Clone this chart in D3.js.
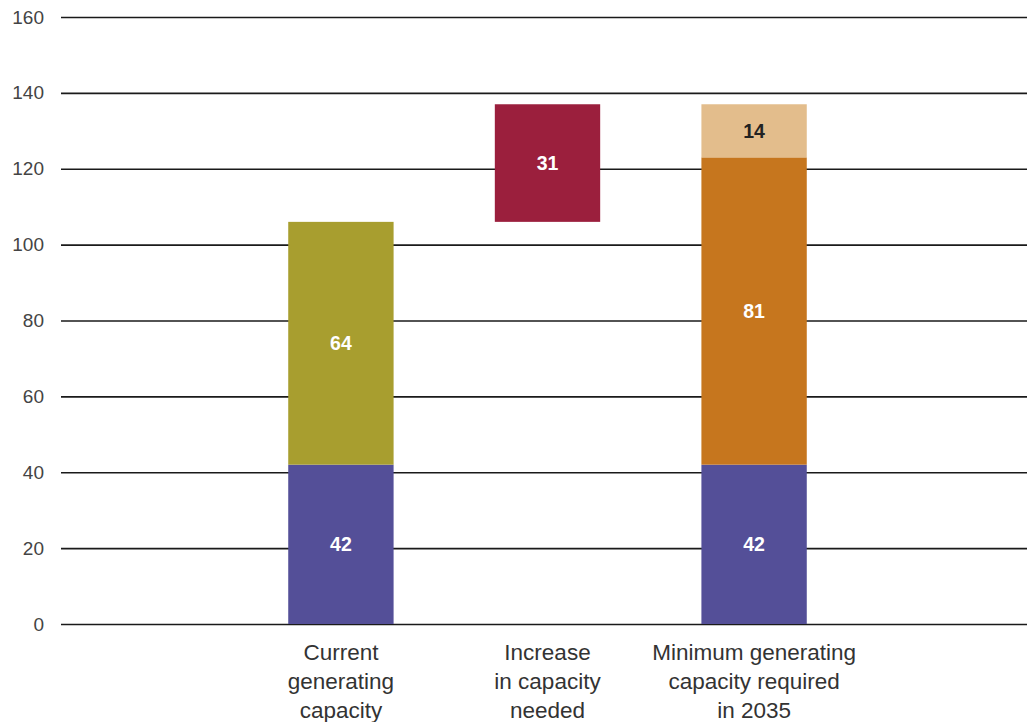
<!DOCTYPE html>
<html>
<head>
<meta charset="utf-8">
<script src="https://cdn.jsdelivr.net/npm/d3@7"></script>
<style>
  html, body { margin: 0; padding: 0; background: #fff; }
  svg { display: block; font-family: "Liberation Sans", Arial, sans-serif; }
</style>
</head>
<body>
<svg id="chart"></svg>
<script>
const width = 1027;
const height = 722;

// Data
const categories = ["current", "increase", "required"];
const categoryLabels = [
  ["Current", "generating", "capacity"],
  ["Increase", "in capacity", "needed"],
  ["Minimum generating", "capacity required", "in 2035"]
];
const baseValues = [42, 0, 42];        // shared bottom segment
const currentValues = [64, 0, 0];      // rest of current capacity
const increaseValues = [0, 31, 0];     // floating increase bar
const requiredValues = [0, 0, 81];     // rest of required capacity
const reserveValues = [0, 0, 14];      // top segment
const yTicks = [0, 20, 40, 60, 80, 100, 120, 140, 160];

const seriesList = [
  { values: baseValues, color: "#544f98", text: "#fff" },
  { values: currentValues, color: "#a89e2f", text: "#fff" },
  { values: increaseValues, color: "#9b1f3d", text: "#fff" },
  { values: requiredValues, color: "#c6761e", text: "#fff" },
  { values: reserveValues, color: "#e3bd8c", text: "#222" }
];

const svg = d3.select("#chart")
  .attr("width", width)
  .attr("height", height);

const xScale = d3.scaleBand()
  .domain(categories)
  .range([187, 908])
  .paddingInner(0.49)
  .paddingOuter(0.49);

const yScale = d3.scaleLinear()
  .domain([0, 160])
  .range([624, 17]);

// Gridlines + tick labels
const yAxis = d3.axisLeft(yScale)
  .tickValues(yTicks)
  .tickSize(-(width - 61))
  .tickPadding(17);

const yAxisG = svg.append("g")
  .attr("transform", "translate(61,0)")
  .call(yAxis);

yAxisG.select(".domain").remove();
yAxisG.selectAll("line")
  .attr("stroke", "#1a1a1a")
  .attr("stroke-width", 1.6);
yAxisG.selectAll("text")
  .attr("font-size", 19)
  .attr("font-family", "Liberation Sans, Arial, sans-serif")
  .attr("fill", "#444");

// Build stacked segments: the increase bar starts where current capacity ends
const segments = [];
categories.forEach((cat, i) => {
  let start = 0;
  seriesList.forEach(s => {
    const v = s.values[i];
    if (s.values === increaseValues && v > 0) {
      start = baseValues[0] + currentValues[0];
    }
    if (v > 0) {
      segments.push({ cat, y0: start, y1: start + v, value: v, color: s.color, text: s.text });
      start += v;
    }
  });
});

const bars = svg.append("g");

bars.selectAll("rect")
  .data(segments)
  .join("rect")
  .attr("x", d => xScale(d.cat))
  .attr("width", xScale.bandwidth())
  .attr("y", d => yScale(d.y1))
  .attr("height", d => yScale(d.y0) - yScale(d.y1))
  .attr("fill", d => d.color);

bars.selectAll("text")
  .data(segments)
  .join("text")
  .attr("x", d => xScale(d.cat) + xScale.bandwidth() / 2)
  .attr("y", d => yScale((d.y0 + d.y1) / 2))
  .attr("dy", "0.35em")
  .attr("text-anchor", "middle")
  .attr("font-size", 19.5)
  .attr("font-weight", "bold")
  .attr("fill", d => d.text)
  .text(d => d.value);

// Category labels
const labels = svg.append("g");
categories.forEach((cat, i) => {
  const t = labels.append("text")
    .attr("x", xScale(cat) + xScale.bandwidth() / 2)
    .attr("y", 660)
    .attr("text-anchor", "middle")
    .attr("font-size", 22.5)
    .attr("fill", "#333");
  categoryLabels[i].forEach((line, j) => {
    t.append("tspan")
      .attr("x", xScale(cat) + xScale.bandwidth() / 2)
      .attr("dy", j === 0 ? 0 : 29)
      .text(line);
  });
});
</script>
</body>
</html>
